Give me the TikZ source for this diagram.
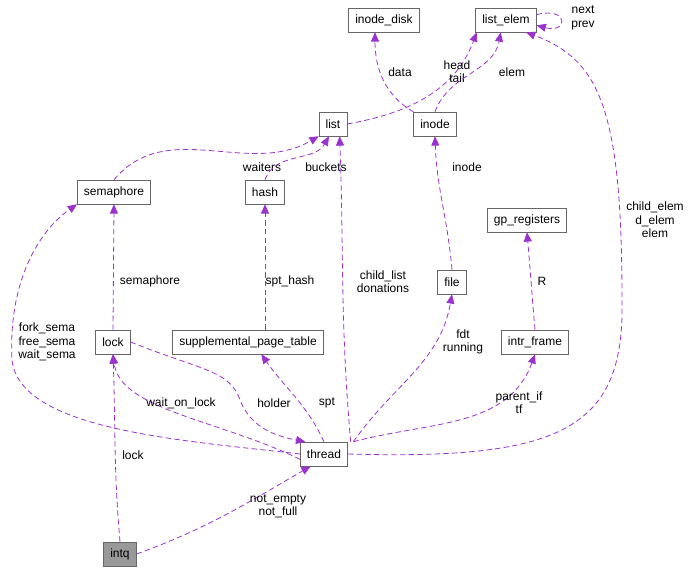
\documentclass[tikz,border=0pt]{standalone}
\usepackage{fontspec}
\setmainfont{Liberation Sans}
\usetikzlibrary{arrows.meta}
\definecolor{edgecol}{HTML}{9A32CD}
\begin{document}
\begin{tikzpicture}[x=0.75pt,y=-0.75pt,
		font=\fontsize{9}{10}\selectfont,
		every node/.style={align=center},
		class/.style={draw=black!60,fill=white,minimum height=18pt,inner xsep=5pt,inner ysep=0pt},
		dep/.style={edgecol,dash pattern=on 4pt off 2.5pt,semithick,-{Triangle[length=7pt,width=6pt]}},
		lbl/.style={inner sep=1pt}]
	\useasboundingbox (0,0) rectangle (694,576);
	\node[class] (inode_disk) at (384,20)  {inode\_disk};
	\node[class] (list_elem)  at (506,20)  {list\_elem};
	\node[class] (list)       at (333,124) {list};
	\node[class] (inode)      at (435,124) {inode};
	\node[class] (semaphore)  at (114,192) {semaphore};
	\node[class] (hash)       at (265,192) {hash};
	\node[class] (gp_registers) at (527,220) {gp\_registers};
	\node[class] (file)       at (452,282) {file};
	\node[class] (lock)       at (113,342) {lock};
	\node[class] (spt)        at (248,342) {supplemental\_page\_table};
	\node[class] (intr_frame) at (535,342) {intr\_frame};
	\node[class] (thread)     at (324,454) {thread};
	\node[class,fill=black!40] (intq) at (120,554) {intq};
	% edges
	\draw[dep] (inode.north west) to[out=150,in=-90] (inode_disk.south -| 375,0);
	\node[lbl] at (400,72) {data};
	\draw[dep] (list.east) to[out=10,in=-110] ([xshift=-22pt]list_elem.south);
	\node[lbl] at (457,72) {head\\tail};
	\draw[dep] (inode.north) to[out=70,in=-100] ([xshift=-4pt]list_elem.south);
	\node[lbl] at (512,72) {elem};
	\draw[dep] ([yshift=4pt]list_elem.east) to[out=15,in=-15,looseness=8] ([yshift=-4pt]list_elem.east);
	\node[lbl] at (583,18) {next\\prev};
	\draw[dep] (thread.east) .. controls (560,460) and (625,430) .. (622,300)
		.. controls (622,110) and (600,60) .. ([xshift=15pt]list_elem.south);
	\node[lbl] at (655,220) {child\_elem\\d\_elem\\elem};
	\draw[dep] (semaphore.north) to[out=50,in=-150] (list.south west);
	\node[lbl] at (262,167) {waiters};
	\draw[dep] (hash.north) to[out=70,in=-120] ([xshift=-3pt]list.south);
	\node[lbl] at (326,167) {buckets};
	\draw[dep] ([xshift=20pt]thread.north) to[out=95,in=-88] ([xshift=5pt]list.south);
	\node[lbl] at (383,282) {child\_list\\donations};
	\draw[dep] (file.north) to[out=95,in=-88] (inode.south);
	\node[lbl] at (467,167) {inode};
	\draw[dep] (lock.north) -- (semaphore.south);
	\node[lbl] at (150,281) {semaphore};
	\draw[dep] (thread.west) .. controls (180,440) and (20,430) .. (12,360)
		.. controls (8,280) and (40,230) .. (semaphore.south west);
	\node[lbl] at (47,342) {fork\_sema\\free\_sema\\wait\_sema};
	\draw[dep] (spt.north -| hash) -- (hash.south);
	\node[lbl] at (290,281) {spt\_hash};
	\draw[dep] (intr_frame.north) to[out=95,in=-85] (gp_registers.south);
	\node[lbl] at (542,281) {R};
	\draw[dep] ([xshift=22pt]thread.north) to[out=55,in=-100] (file.south);
	\node[lbl] at (463,342) {fdt\\running};
	\draw[dep] ([yshift=-4pt]thread.west) .. controls (220,420) and (120,410) .. (lock.south);
	\node[lbl] at (181,403) {wait\_on\_lock};
	\draw[dep] (lock.east) .. controls (200,370) and (230,370) .. (240,400)
		.. controls (250,425) and (270,435) .. ([xshift=-14pt]thread.north);
	\node[lbl] at (274,403) {holder};
	\draw[dep] (thread.north) to[out=115,in=-55] ([xshift=10pt]spt.south);
	\node[lbl] at (327,403) {spt};
	\draw[dep] ([xshift=22pt]thread.north) to[out=15,in=-110] (intr_frame.south);
	\node[lbl] at (519,403) {parent\_if\\tf};
	\draw[dep] (intq.north) to[out=95,in=-88] (lock.south);
	\node[lbl] at (133,455) {lock};
	\draw[dep] (intq.east) to[out=20,in=-150] ([xshift=-10pt]thread.south);
	\node[lbl] at (278,506) {not\_empty\\not\_full};
\end{tikzpicture}
\end{document}
